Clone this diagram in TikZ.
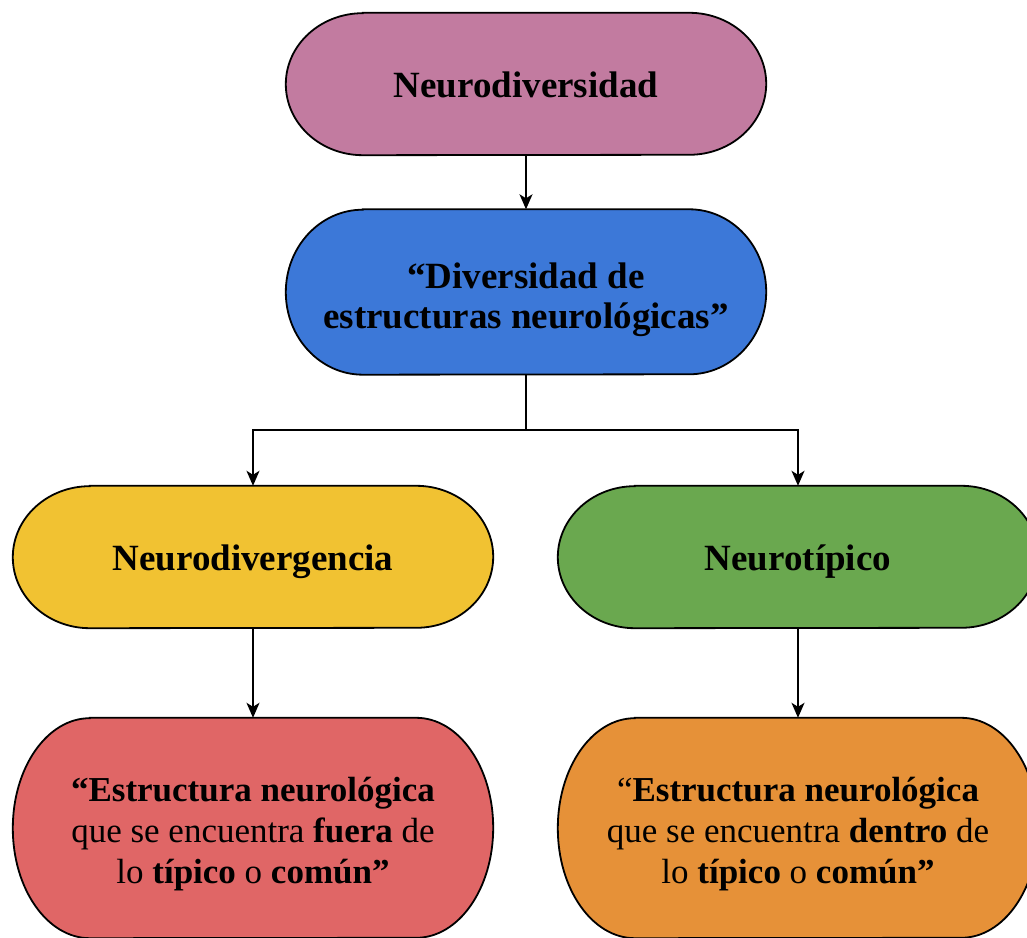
\documentclass[tikz,border=0pt]{standalone}
\usepackage{fontspec}
\setmainfont{Liberation Serif}
\usetikzlibrary{arrows.meta,backgrounds}
\definecolor{cTop}{HTML}{C27BA0}
\definecolor{cBlue}{HTML}{3C78D8}
\definecolor{cYellow}{HTML}{F1C232}
\definecolor{cGreen}{HTML}{6AA84F}
\definecolor{cRed}{HTML}{E06666}
\definecolor{cOrange}{HTML}{E69138}
\tikzset{
  termnode/.style={draw=none, minimum width=480pt, inner sep=0pt, align=center},
  headfont/.style={font=\fontsize{37}{41}\selectfont\bfseries, text height=28pt, text depth=0pt},
  twofont/.style={font=\fontsize{37}{40}\selectfont\bfseries},
  bodyfont/.style={font=\fontsize{35}{41}\selectfont},
  termline/.style={draw=black, line width=1.8pt},
  conn/.style={line width=1.6pt, -{Stealth[length=15pt,width=13pt,inset=4pt]}},
  plainconn/.style={line width=1.6pt}
}
% name, x, y, height, colour, style, text
\newcommand{\termbox}[7]{%
  \node[termnode, #6, minimum height=#4pt] (#1) at (#2pt,#3pt) {#7};
  \begin{scope}[on background layer]
    \path[termline, fill=#5]
      ([xshift=77pt]#1.north west) -- ([xshift=-77pt]#1.north east)
      arc[start angle=90, end angle=-90, x radius=77pt, y radius=#4pt/2]
      -- ([xshift=77pt]#1.south west)
      arc[start angle=270, end angle=90, x radius=77pt, y radius=#4pt/2]
      -- cycle;
  \end{scope}}
\begin{document}
\begin{tikzpicture}[x=1pt,y=1pt]
\useasboundingbox (0,0) rectangle (1027,937);
\clip (0,0) rectangle (1027,937);
\termbox{top}{526}{853}{142}{cTop}{headfont}{Neurodiversidad}
\termbox{div}{526}{645}{165}{cBlue}{twofont}{\rule{0pt}{41pt}“Diversidad de\\estructuras neurológicas”}
\termbox{nd}{253}{380}{142}{cYellow}{headfont}{Neurodivergencia}
\termbox{nt}{798}{380}{142}{cGreen}{headfont}{Neurotípico}
\termbox{ndd}{253}{109}{220}{cRed}{bodyfont}{\rule{0pt}{36pt}\textbf{“Estructura neurológica}\\que se encuentra \textbf{fuera} de\\lo \textbf{típico} o \textbf{común”}}
\termbox{ntd}{798}{109}{220}{cOrange}{bodyfont}{\rule{0pt}{36pt}“\textbf{Estructura neurológica}\\que se encuentra \textbf{dentro} de\\lo \textbf{típico} o \textbf{común”}}
\coordinate (split) at (526,507);
\draw[conn] (top.south) -- (div.north);
\draw[plainconn] (div.south) -- (split);
\draw[conn] (split) -| (nd.north);
\draw[conn] (split) -| (nt.north);
\draw[conn] (nd.south) -- (ndd.north);
\draw[conn] (nt.south) -- (ntd.north);
\end{tikzpicture}
\end{document}
